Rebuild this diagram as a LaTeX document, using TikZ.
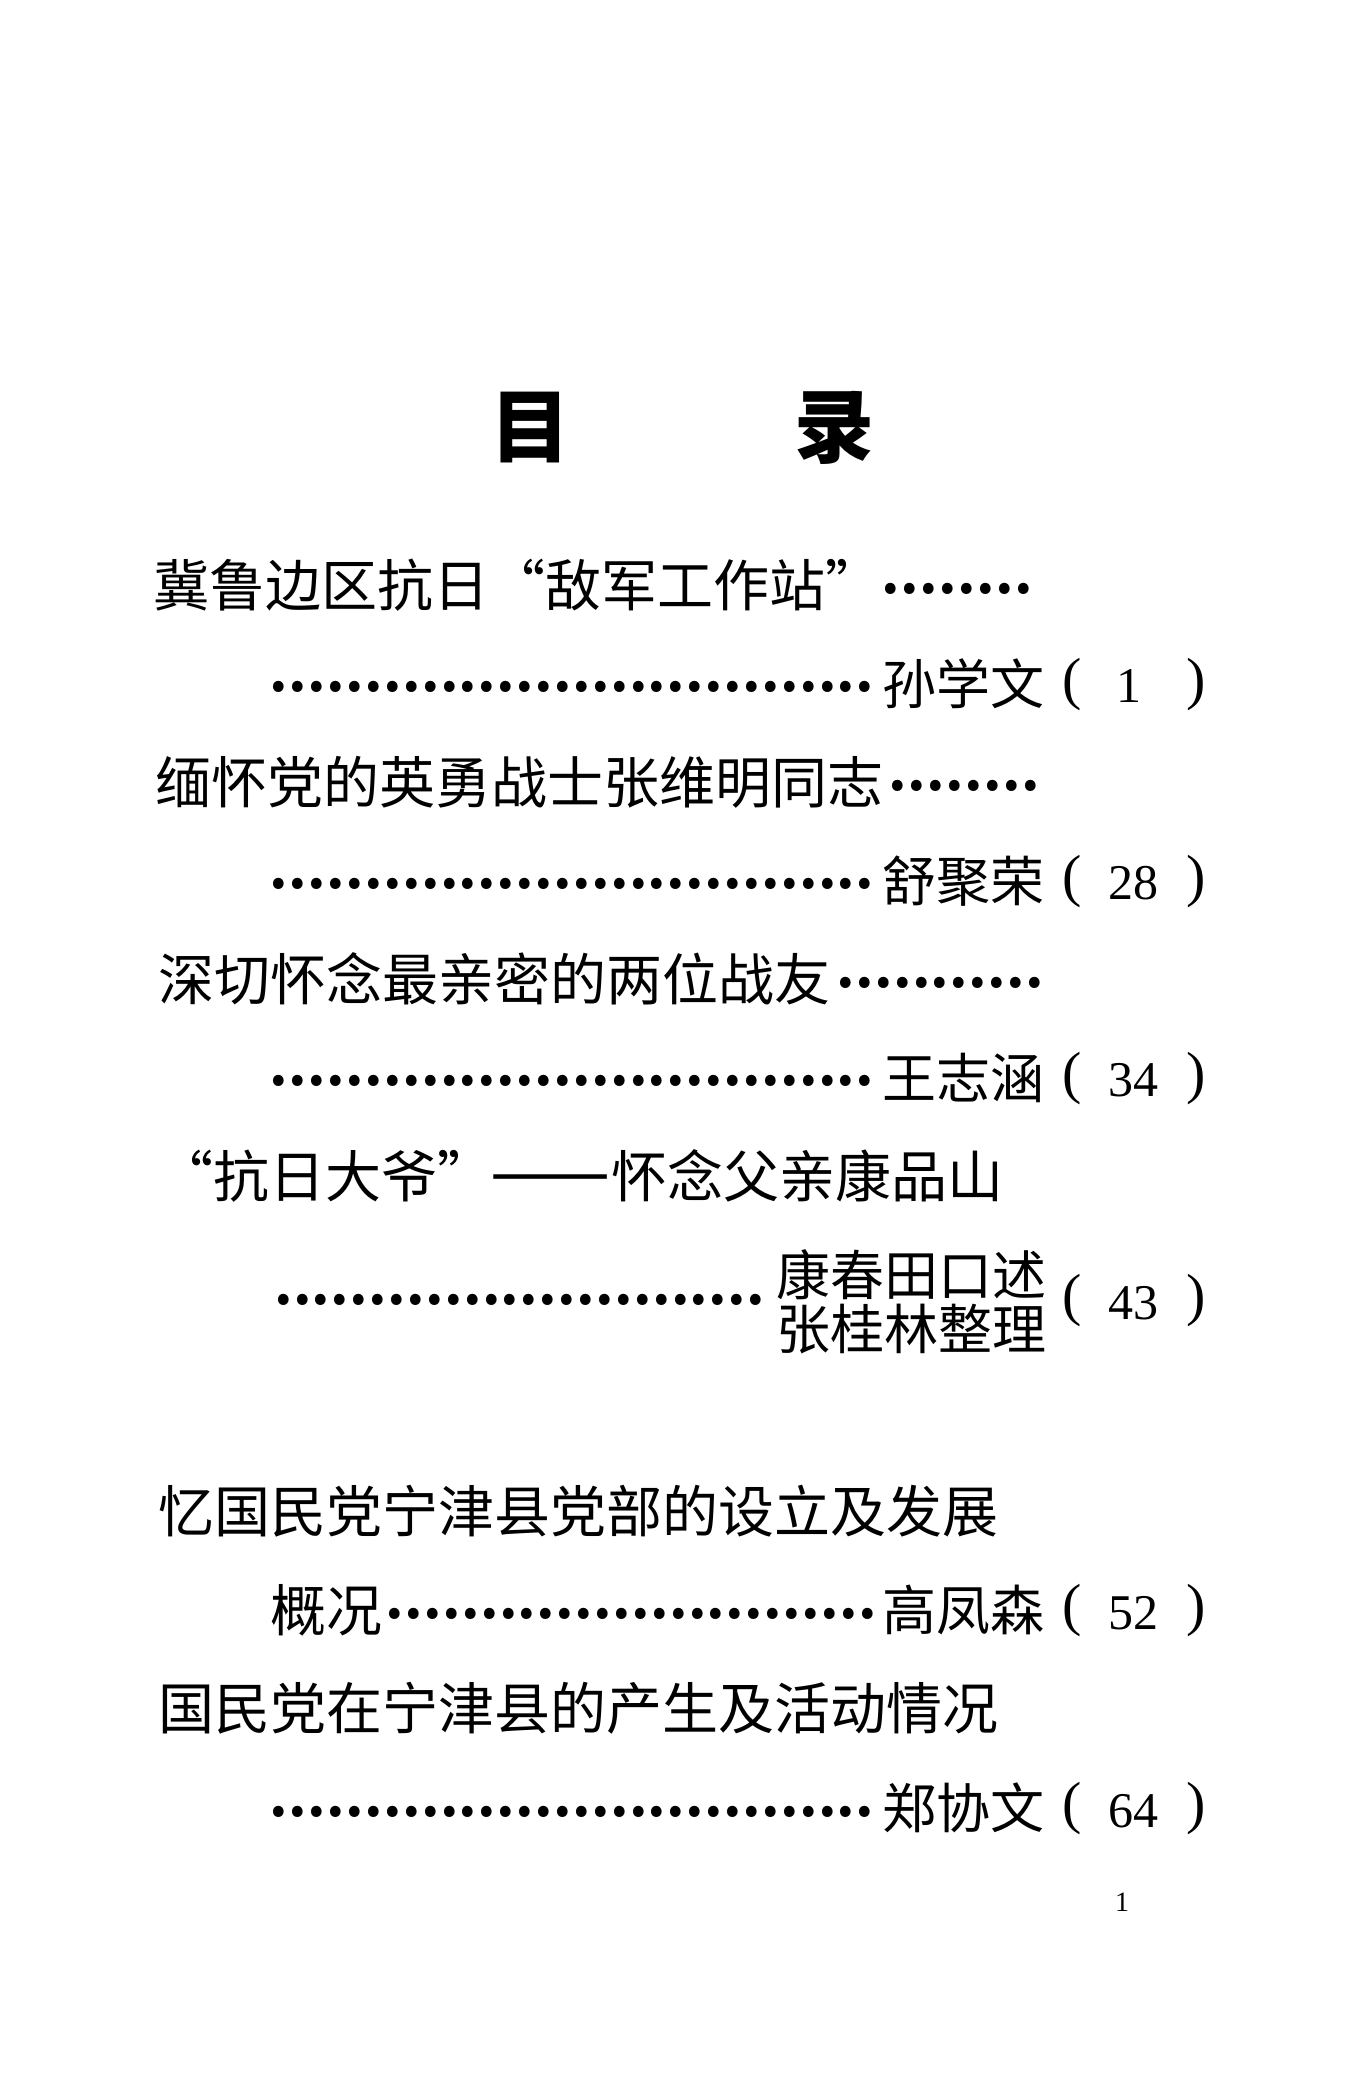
\documentclass[tikz,border=0pt]{standalone}
\usepackage{fontspec}
\newfontfamily\cjk{Noto Sans CJK SC}
\newfontfamily\numfont{Liberation Serif}
\newcommand\tocdots[1]{\hbox to #1pt{\cleaders\hbox to 18.9pt{\hss\raisebox{13pt}{\scalebox{1.45}{.}}\hss}\hfill}}
\begin{document}
\begin{tikzpicture}[x=1pt,y=1pt,
  ttl/.style={font=\cjk\bfseries\fontsize{80}{80}\selectfont, inner sep=0, anchor=center},
  ln/.style={font=\cjk\fontsize{56}{56}\selectfont, inner sep=0, anchor=base west},
  au/.style={font=\cjk\fontsize{54}{54}\selectfont, inner sep=0, anchor=base east},
  ld/.style={font=\cjk\fontsize{56}{56}\selectfont, inner sep=0, anchor=base west},
  prn/.style={font=\numfont\fontsize{58}{58}\selectfont, inner sep=0, anchor=base},
  num/.style={font=\numfont\fontsize{50}{50}\selectfont, inner sep=0, anchor=base},
  pg/.style={font=\numfont\fontsize{28}{28}\selectfont, inner sep=0, anchor=base}]
\useasboundingbox[fill=white] (0,0) rectangle (1347,-2073);

% title
\node[ttl] (t1) at (530,-428) {目};
\node[ttl] (t2) at (834,-428) {录};

% entry 1
\node[ln] (e1) at (153,-606.3) {冀鲁边区抗日\makebox[56pt][r]{“}敌军工作站\makebox[44pt][l]{”}};
\node[ld] (e1d) at (872,-606.3) {\tocdots{170}};
\node[ld] (e1l) at (266,-704.8) {\tocdots{612}};
\node[au] (e1a) at (1045,-704) {孙学文};
\node[prn] (e1p) at (1072,-698.3) {(};
\node[num] (e1n) at (1129,-702.5) {1};
\node[prn] (e1q) at (1196,-698.3) {)};

% entry 2
\node[ln] (e2) at (155,-803.3) {缅怀党的英勇战士张维明同志};
\node[ld] (e2d) at (884,-803.3) {\tocdots{160}};
\node[ld] (e2l) at (266,-901.8) {\tocdots{612}};
\node[au] (e2a) at (1045,-901) {舒聚荣};
\node[prn] (e2p) at (1072,-895.3) {(};
\node[num] (e2n) at (1133,-899.5) {28};
\node[prn] (e2q) at (1196,-895.3) {)};

% entry 3
\node[ln] (e3) at (158,-1000.3) {深切怀念最亲密的两位战友};
\node[ld] (e3d) at (831,-1000.3) {\tocdots{218}};
\node[ld] (e3l) at (266,-1098.8) {\tocdots{612}};
\node[au] (e3a) at (1045,-1098) {王志涵};
\node[prn] (e3p) at (1072,-1092.3) {(};
\node[num] (e3n) at (1133,-1096.5) {34};
\node[prn] (e3q) at (1196,-1092.3) {)};

% entry 4
\node[ln] (e4q) at (180,-1197.3) {\makebox[33pt][r]{“}抗日大爷\makebox[40pt][l]{”}};
\node[ln] (e4m) at (490,-1197.3) {\scalebox{1.28}[1.3]{——}};
\node[ln] (e4) at (611,-1197.3) {怀念父亲康品山};
\node[ld] (e4l) at (266,-1317.4) {\tocdots{507}};
\node[au] (e4a) at (1047,-1295.5) {康春田口述};
\node[au] (e4b) at (1047,-1349.5) {张桂林整理};
\node[prn] (e4p) at (1072,-1314.8) {(};
\node[num] (e4n) at (1133,-1319) {43};
\node[prn] (e4r) at (1196,-1314.8) {)};

% entry 5
\node[ln] (e5) at (158,-1532.8) {忆国民党宁津县党部的设立及发展};
\node[ln] (e5b) at (270,-1631.3) {概况};
\node[ld] (e5l) at (384,-1631.3) {\tocdots{494}};
\node[au] (e5a) at (1045,-1630.5) {高凤森};
\node[prn] (e5p) at (1072,-1624.8) {(};
\node[num] (e5n) at (1133,-1629) {52};
\node[prn] (e5q) at (1196,-1624.8) {)};

% entry 6
\node[ln] (e6) at (158,-1729.8) {国民党在宁津县的产生及活动情况};
\node[ld] (e6l) at (266,-1829.3) {\tocdots{612}};
\node[au] (e6a) at (1045,-1828.5) {郑协文};
\node[prn] (e6p) at (1072,-1822.8) {(};
\node[num] (e6n) at (1133,-1827) {64};
\node[prn] (e6q) at (1196,-1822.8) {)};

% page number
\node[pg] (pn) at (1122,-1911.5) {1};
\end{tikzpicture}
\end{document}
